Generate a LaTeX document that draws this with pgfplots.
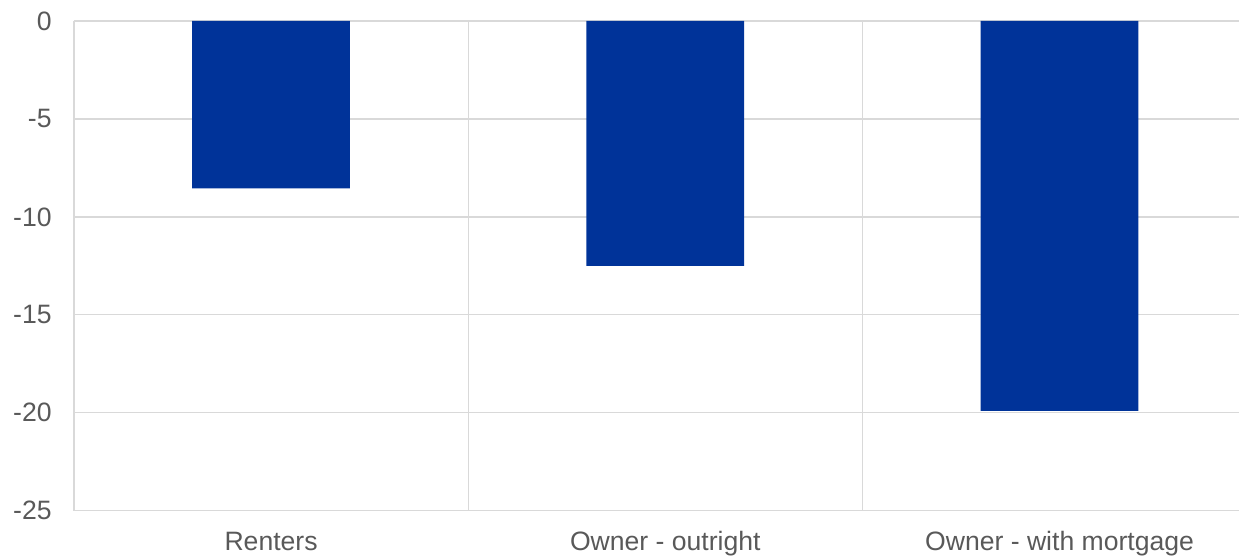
\documentclass[border=0pt]{standalone}
\usepackage{fontspec}
\setmainfont{Liberation Sans}
\usepackage{pgfplots}
\pgfplotsset{compat=1.18}
\definecolor{barblue}{HTML}{003399}
\definecolor{gridgray}{HTML}{D9D9D9}
\definecolor{labgray}{HTML}{595959}
\begin{document}
\begin{tikzpicture}
\begin{axis}[
  scale only axis,
  width=583pt, height=245pt,
  xmin=-0.5, xmax=2.456,
  ymin=-25, ymax=0,
  ytick={-25,-20,-15,-10,-5,0},
  xtick={0,1,2},
  xticklabels={Renters, Owner - outright, Owner - with mortgage},
  minor xtick={-0.5,0.5,1.5},
  xminorgrids=true,
  ymajorgrids=true,
  major grid style={draw=gridgray, line width=0.65pt},
  minor grid style={draw=gridgray, line width=0.65pt},
  axis line style={draw=none},
  major tick length=0pt, minor tick length=0pt,
  tick style={draw=none},
  /pgf/number format/assume math mode=true,
  ticklabel style={font=\fontsize{13.3}{15}\selectfont, text=labgray},
  xticklabel style={anchor=base, yshift=-20pt, inner sep=0pt},
  yticklabel style={anchor=east, xshift=-11pt, inner sep=0pt},
  clip=false,
]
\addplot[ybar, bar width=0.4, fill=barblue, draw=none] coordinates {
  (0,-8.55) (1,-12.5) (2,-19.9)
};
\end{axis}
\path[draw=none] (-37pt,-22.5pt) rectangle (583pt,255.5pt);
\end{tikzpicture}
\end{document}
